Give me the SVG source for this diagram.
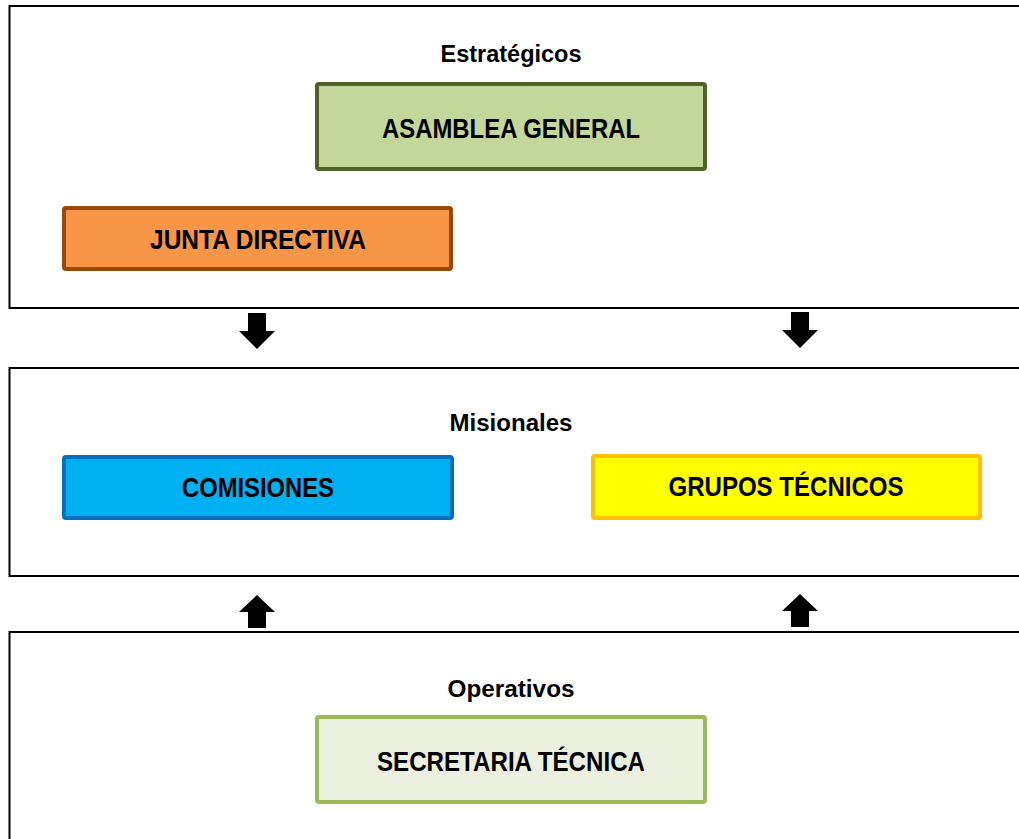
<svg xmlns="http://www.w3.org/2000/svg" width="1019" height="839" viewBox="0 0 1019 839">
<style>
.frame{fill:#fff;stroke:#000;stroke-width:2}
.box{stroke-width:4}
.t{font-family:"Liberation Sans Narrow","Liberation Sans",Arial,sans-serif;font-weight:bold;fill:#000;text-anchor:middle}
.h{font-size:23px}
.b{font-size:28px}
.arr{fill:#000}
</style>
<rect width="1019" height="839" fill="#fff"/>
<g id="frame-estrategicos">
<rect class="frame" x="9.5" y="6" width="1030" height="302"/>
<text class="t h" x="511" y="62" textLength="141" lengthAdjust="spacingAndGlyphs">Estratégicos</text>
</g>
<g id="frame-misionales">
<rect class="frame" x="9.5" y="368" width="1030" height="208"/>
<text class="t h" x="511" y="431" textLength="123" lengthAdjust="spacingAndGlyphs">Misionales</text>
</g>
<g id="frame-operativos">
<rect class="frame" x="9.5" y="632" width="1030" height="230"/>
<text class="t h" x="511" y="697" textLength="127" lengthAdjust="spacingAndGlyphs">Operativos</text>
</g>
<g id="asamblea-general">
<rect class="box" x="317" y="84" width="388" height="85" rx="2" fill="#C4D79B" stroke="#4F6228"/>
<text class="t b" x="511" y="138" textLength="258" lengthAdjust="spacingAndGlyphs">ASAMBLEA GENERAL</text>
</g>
<g id="junta-directiva">
<rect class="box" x="64" y="208" width="387" height="61" rx="2" fill="#F79646" stroke="#984807"/>
<text class="t b" x="258" y="249" textLength="216" lengthAdjust="spacingAndGlyphs">JUNTA DIRECTIVA</text>
</g>
<g id="comisiones">
<rect class="box" x="64" y="457" width="388" height="61" rx="2" fill="#00B0F0" stroke="#0070C0"/>
<text class="t b" x="258" y="497" textLength="152" lengthAdjust="spacingAndGlyphs">COMISIONES</text>
</g>
<g id="grupos-tecnicos">
<rect class="box" x="593" y="456" width="387" height="62" rx="2" fill="#FFFF00" stroke="#FFC000"/>
<text class="t b" x="786" y="496" textLength="235" lengthAdjust="spacingAndGlyphs">GRUPOS TÉCNICOS</text>
</g>
<g id="secretaria-tecnica">
<rect class="box" x="317" y="717" width="388" height="85" rx="2" fill="#EBF1DE" stroke="#9BBB59"/>
<text class="t b" x="511" y="771" textLength="268" lengthAdjust="spacingAndGlyphs">SECRETARIA TÉCNICA</text>
</g>
<g id="connectors">
<polygon class="arr" points="248,313 266,313 266,331 275,331 257,349 239,331 248,331"/>
<polygon class="arr" points="791,312 809,312 809,330 818,330 800,348 782,330 791,330"/>
<polygon class="arr" points="248,628 266,628 266,612 275,612 257,595 239,612 248,612"/>
<polygon class="arr" points="791,627 809,627 809,611 818,611 800,594 782,611 791,611"/>
</g>
</svg>
